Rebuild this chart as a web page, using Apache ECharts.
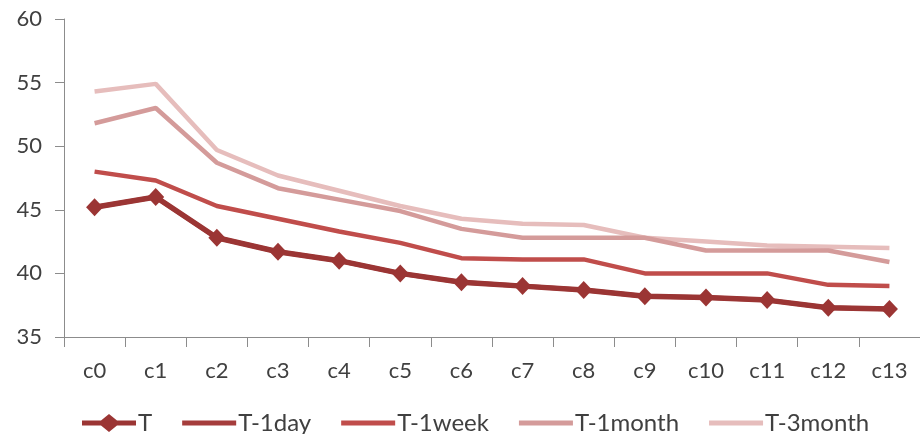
<!DOCTYPE html>
<html>
<head>
<meta charset="utf-8">
<script src="https://cdn.jsdelivr.net/npm/echarts@6/dist/echarts.min.js"></script>
<style>html,body{margin:0;padding:0;background:#fff}#c{width:920px;height:434px}</style>
</head>
<body>
<div id="c"></div>
<script>
var categories = ['c0','c1','c2','c3','c4','c5','c6','c7','c8','c9','c10','c11','c12','c13'];
var seriesNames = ['T','T-1day','T-1week','T-1month','T-3month'];
var sT       = [45.2, 46.0, 42.8, 41.7, 41.0, 40.0, 39.3, 39.0, 38.7, 38.2, 38.1, 37.9, 37.3, 37.2];
var sT1day   = [45.2, 46.0, 42.8, 41.7, 41.0, 40.0, 39.3, 39.0, 38.7, 38.2, 38.1, 37.9, 37.3, 37.2];
var sT1week  = [48.0, 47.3, 45.3, 44.3, 43.3, 42.4, 41.2, 41.1, 41.1, 40.0, 40.0, 40.0, 39.1, 39.0];
var sT1month = [51.8, 53.0, 48.7, 46.7, 45.8, 44.9, 43.5, 42.8, 42.8, 42.8, 41.8, 41.8, 41.8, 40.9];
var sT3month = [54.3, 54.9, 49.7, 47.7, 46.5, 45.3, 44.3, 43.9, 43.8, 42.8, 42.5, 42.2, 42.1, 42.0];
var yTicks = [35, 40, 45, 50, 55, 60];

var colors = ['#9b3534', '#a53d3c', '#c04d4b', '#d49b9a', '#e6bdbc'];
var font = 'Lato';
var chart = echarts.init(document.getElementById('c'), null, {renderer: 'canvas'});
function lineSeries(name, data, color, width, sym) {
  return {
    name: name, type: 'line', data: data,
    symbol: sym ? 'diamond' : 'none', symbolSize: [17, 18], showSymbol: !!sym,
    lineStyle: {color: color, width: width},
    itemStyle: {color: color},
    animation: false
  };
}
var bounds = 'M0,0 L0.02,0 L0,0.02 Z M54,18 L53.98,18 L54,17.98 Z ';
var lineIcon = 'path://' + bounds + 'M0,6.6 L54,6.6 L54,11.4 L0,11.4 Z';
var diamondIcon = 'path://' + bounds + 'M0,6.4 L19,6.4 L27,0 L35,6.4 L54,6.4 L54,11.6 L35,11.6 L27,18 L19,11.6 L0,11.6 Z';
chart.setOption({
  animation: false,
  color: colors,
  grid: {left: 64, top: 19, width: 860, height: 318, containLabel: false},
  legend: {
    left: 77, top: 406, itemWidth: 54, itemHeight: 18, itemGap: 30,
    textStyle: {fontFamily: font, fontSize: 24, color: '#404040', padding: [0, 0, 0, -3]},
    data: [
      {name: 'T', icon: diamondIcon},
      {name: 'T-1day', icon: lineIcon},
      {name: 'T-1week', icon: lineIcon},
      {name: 'T-1month', icon: lineIcon},
      {name: 'T-3month', icon: lineIcon}
    ]
  },
  xAxis: {
    type: 'category', data: categories, boundaryGap: true,
    axisLine: {lineStyle: {color: '#8c8c8c', width: 1}},
    axisTick: {show: true, length: 10, lineStyle: {color: '#8c8c8c'}},
    axisLabel: {fontFamily: font, fontSize: 22, color: '#404040', margin: 23}
  },
  yAxis: {
    type: 'value', min: yTicks[0], max: yTicks[yTicks.length - 1], interval: 5,
    axisLine: {show: true, lineStyle: {color: '#8c8c8c', width: 1}},
    axisTick: {show: true, length: 9, lineStyle: {color: '#8c8c8c'}},
    splitLine: {show: false},
    axisLabel: {fontFamily: font, fontSize: 22, color: '#404040', margin: 22}
  },
  series: [
    lineSeries('T-3month', sT3month, colors[4], 4.5, false),
    lineSeries('T-1month', sT1month, colors[3], 4.5, false),
    lineSeries('T-1week', sT1week, colors[2], 4.5, false),
    lineSeries('T-1day', sT1day, colors[1], 4.5, false),
    lineSeries('T', sT, colors[0], 5.5, true)
  ]
});
</script>
</body>
</html>
